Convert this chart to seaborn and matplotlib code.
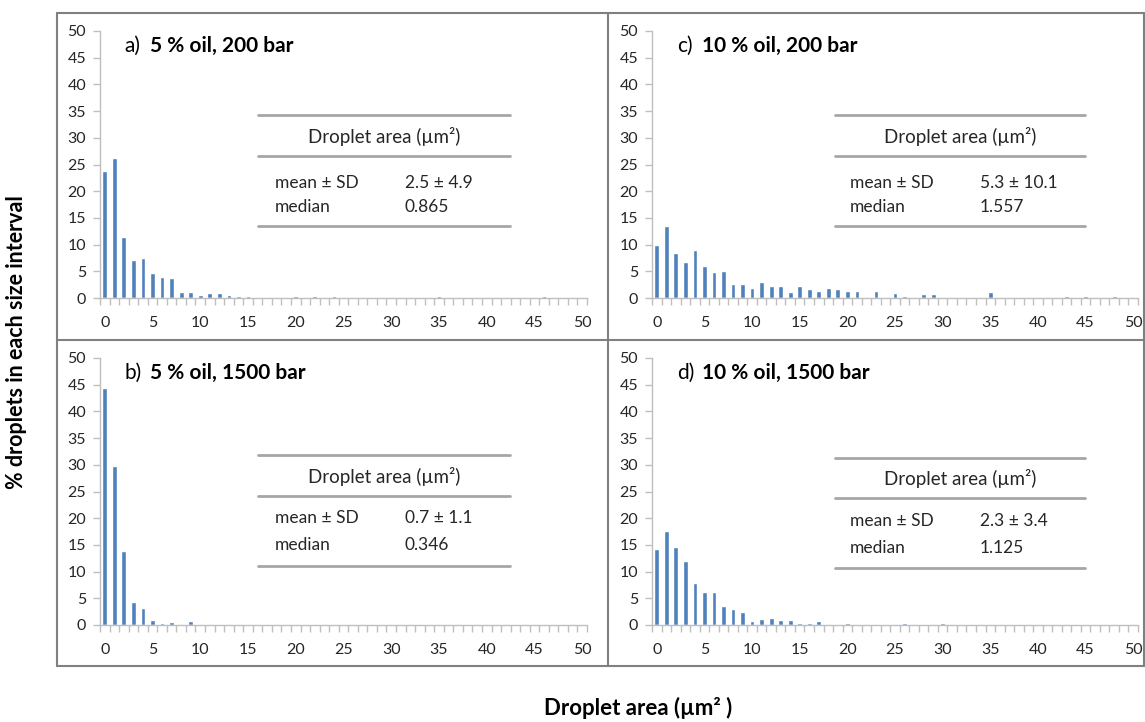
import numpy as np
import pandas as pd
import matplotlib
matplotlib.use("Agg")
import matplotlib.pyplot as plt
import seaborn as sns
from matplotlib.lines import Line2D

sns.set_style("white")
plt.rcParams['font.family'] = ['Lato', 'DejaVu Sans']

bins = list(range(51))

pct_a = [23.8, 26.2, 11.4, 7.2, 7.5, 4.6, 3.9, 3.8, 1.2, 1.2,
         0.5, 0.9, 0.9, 0.55, 0.3, 0.3, 0.0, 0.1, 0.0, 0.0,
         0.3, 0.0, 0.3, 0.15, 0.3, 0.0, 0.15, 0.15, 0.0, 0.0,
         0.0, 0.15, 0.0, 0.0, 0.15, 0.35, 0.0, 0.0, 0.0, 0.0,
         0.0, 0.0, 0.0, 0.0, 0.15, 0.15, 0.35, 0.0, 0.0, 0.0, 0.0]
pct_b = [44.4, 29.7, 13.8, 4.3, 3.1, 1.0, 0.4, 0.6, 0.15, 0.8,
         0.0, 0.0, 0.15, 0.0, 0.0, 0.0, 0.15, 0.0, 0.0, 0.15,
         0.0, 0.0, 0.0, 0.0, 0.0, 0.0, 0.0, 0.0, 0.0, 0.0,
         0.0, 0.0, 0.0, 0.0, 0.0, 0.0, 0.0, 0.0, 0.0, 0.0,
         0.0, 0.0, 0.0, 0.0, 0.0, 0.0, 0.0, 0.0, 0.0, 0.0, 0.0]
pct_c = [10.0, 13.4, 8.5, 6.7, 8.9, 6.0, 4.8, 5.0, 2.7, 2.7,
         1.9, 3.0, 2.3, 2.3, 1.1, 2.3, 1.6, 1.3, 1.9, 1.6,
         1.3, 1.3, 0.15, 1.3, 0.0, 0.9, 0.4, 0.25, 0.8, 0.7,
         0.2, 0.15, 0.0, 0.15, 0.0, 1.2, 0.0, 0.0, 0.0, 0.15,
         0.15, 0.15, 0.0, 0.3, 0.0, 0.3, 0.15, 0.0, 0.3, 0.15, 0.15]
pct_d = [14.2, 17.6, 14.7, 11.9, 7.8, 6.1, 6.1, 3.5, 3.0, 2.5,
         0.8, 1.2, 1.3, 0.95, 0.9, 0.35, 0.45, 0.7, 0.0, 0.0,
         0.3, 0.0, 0.0, 0.25, 0.0, 0.0, 0.3, 0.0, 0.0, 0.0,
         0.3, 0.0, 0.0, 0.0, 0.0, 0.0, 0.0, 0.0, 0.0, 0.0,
         0.0, 0.0, 0.0, 0.0, 0.0, 0.0, 0.0, 0.0, 0.0, 0.0, 0.0]

panel_letters = ["a)", "b)", "c)", "d)"]
panel_titles = ["5 % oil, 200 bar", "5 % oil, 1500 bar", "10 % oil, 200 bar", "10 % oil, 1500 bar"]
mean_sd = ["2.5 ± 4.9", "0.7 ± 1.1", "5.3 ± 10.1", "2.3 ± 3.4"]
medians = ["0.865", "0.346", "1.557", "1.125"]
yticks = list(range(0, 55, 5))
xtick_labels = [str(v) for v in range(0, 55, 5)]

BLUE = "#4F81BD"
AXGRAY = "#BFBFBF"
LINEGRAY = "#A6A6A6"
FRAME = "#808080"
TXT = "#262626"

W, H = 1145, 722
fig = plt.figure(figsize=(W / 100, H / 100), dpi=100)

def fx(px):
    return px / W

def fy(py):
    return 1 - py / H

pos = {
    0: (100, 587, 31, 298),
    1: (100, 587, 358, 625),
    2: (652, 1138, 31, 298),
    3: (652, 1138, 358, 625),
}
table_geo = {
    0: dict(x0=0.324, x1=0.842, ylines=(0.685, 0.532, 0.270), yh=0.603, ym=0.431, ymed=0.341, xl=0.359, xv=0.626, xh=0.583),
    1: dict(x0=0.324, x1=0.842, ylines=(0.637, 0.483, 0.221), yh=0.558, ym=0.401, ymed=0.300, xl=0.359, xv=0.626, xh=0.583),
    2: dict(x0=0.377, x1=0.891, ylines=(0.685, 0.532, 0.270), yh=0.603, ym=0.431, ymed=0.341, xl=0.407, xv=0.675, xh=0.634),
    3: dict(x0=0.377, x1=0.891, ylines=(0.625, 0.476, 0.213), yh=0.547, ym=0.390, ymed=0.288, xl=0.407, xv=0.675, xh=0.634),
}
data = [pct_a, pct_b, pct_c, pct_d]

for i in range(4):
    l, r, t, b = pos[i]
    ax = fig.add_axes([fx(l), fy(b), fx(r) - fx(l), fy(t) - fy(b)])
    df = pd.DataFrame({"bin": bins, "pct": data[i]})
    sns.barplot(data=df, x="bin", y="pct", color=BLUE, saturation=1, width=0.5, ax=ax)
    ax.set_xlim(-0.5, 50.5)
    ax.set_ylim(0, 50)
    ax.set_xlabel("")
    ax.set_ylabel("")
    ax.set_xticks(range(0, 51, 5))
    ax.set_xticklabels(xtick_labels)
    ax.set_xticks(np.arange(-0.5, 51, 1), minor=True)
    ax.set_yticks(yticks)
    ax.set_yticklabels([str(v) for v in yticks])
    for s in ["top", "right"]:
        ax.spines[s].set_visible(False)
    for s in ["left", "bottom"]:
        ax.spines[s].set_color(AXGRAY)
        ax.spines[s].set_linewidth(1.0)
    ax.tick_params(axis="x", which="major", bottom=True, length=0, pad=13, labelsize=11.5, labelcolor=TXT)
    ax.tick_params(axis="x", which="minor", bottom=True, length=5, color=AXGRAY, width=1, direction="out")
    ax.tick_params(axis="y", which="major", left=True, length=5, color=AXGRAY, width=1, direction="out",
                   pad=5, labelsize=11.5, labelcolor=TXT)
    ax.patch.set_alpha(0)

    ax.text(0.051, 0.945, panel_letters[i], transform=ax.transAxes, fontsize=15,
            va="center", ha="left", color="black")
    ax.text(0.103, 0.945, panel_titles[i], transform=ax.transAxes, fontsize=15,
            fontweight="bold", va="center", ha="left", color="black")

    g = table_geo[i]
    for yl in g["ylines"]:
        ax.add_line(Line2D([g["x0"], g["x1"]], [yl, yl], transform=ax.transAxes,
                           color=LINEGRAY, lw=2, clip_on=False))
    ax.text(g["xh"], g["yh"], "Droplet area (µm²)", transform=ax.transAxes,
            fontsize=13.5, ha="center", va="center", color=TXT)
    ax.text(g["xl"], g["ym"], "mean ± SD", transform=ax.transAxes,
            fontsize=12.5, ha="left", va="center", color=TXT)
    ax.text(g["xl"], g["ymed"], "median", transform=ax.transAxes,
            fontsize=12.5, ha="left", va="center", color=TXT)
    ax.text(g["xv"], g["ym"], mean_sd[i], transform=ax.transAxes,
            fontsize=12.5, ha="left", va="center", color=TXT)
    ax.text(g["xv"], g["ymed"], medians[i], transform=ax.transAxes,
            fontsize=12.5, ha="left", va="center", color=TXT)

frame_lines = [
    ([57, 1144], [13, 13]),
    ([57, 1144], [666, 666]),
    ([57, 57], [13, 666]),
    ([1144, 1144], [13, 666]),
    ([608, 608], [13, 666]),
    ([57, 1144], [340, 340]),
]
for xs, ys in frame_lines:
    fig.add_artist(Line2D([fx(x) for x in xs], [fy(y) for y in ys], color=FRAME, lw=1.5))

fig.text(fx(17), fy(342), "% droplets in each size interval", rotation=90, fontsize=15.5,
         fontweight="bold", ha="center", va="center", color="black")
fig.text(fx(638), fy(708), "Droplet area (µm² )", fontsize=16, fontweight="bold",
         ha="center", va="center", color="black")

fig.savefig("out.png", dpi=100, facecolor="white")
